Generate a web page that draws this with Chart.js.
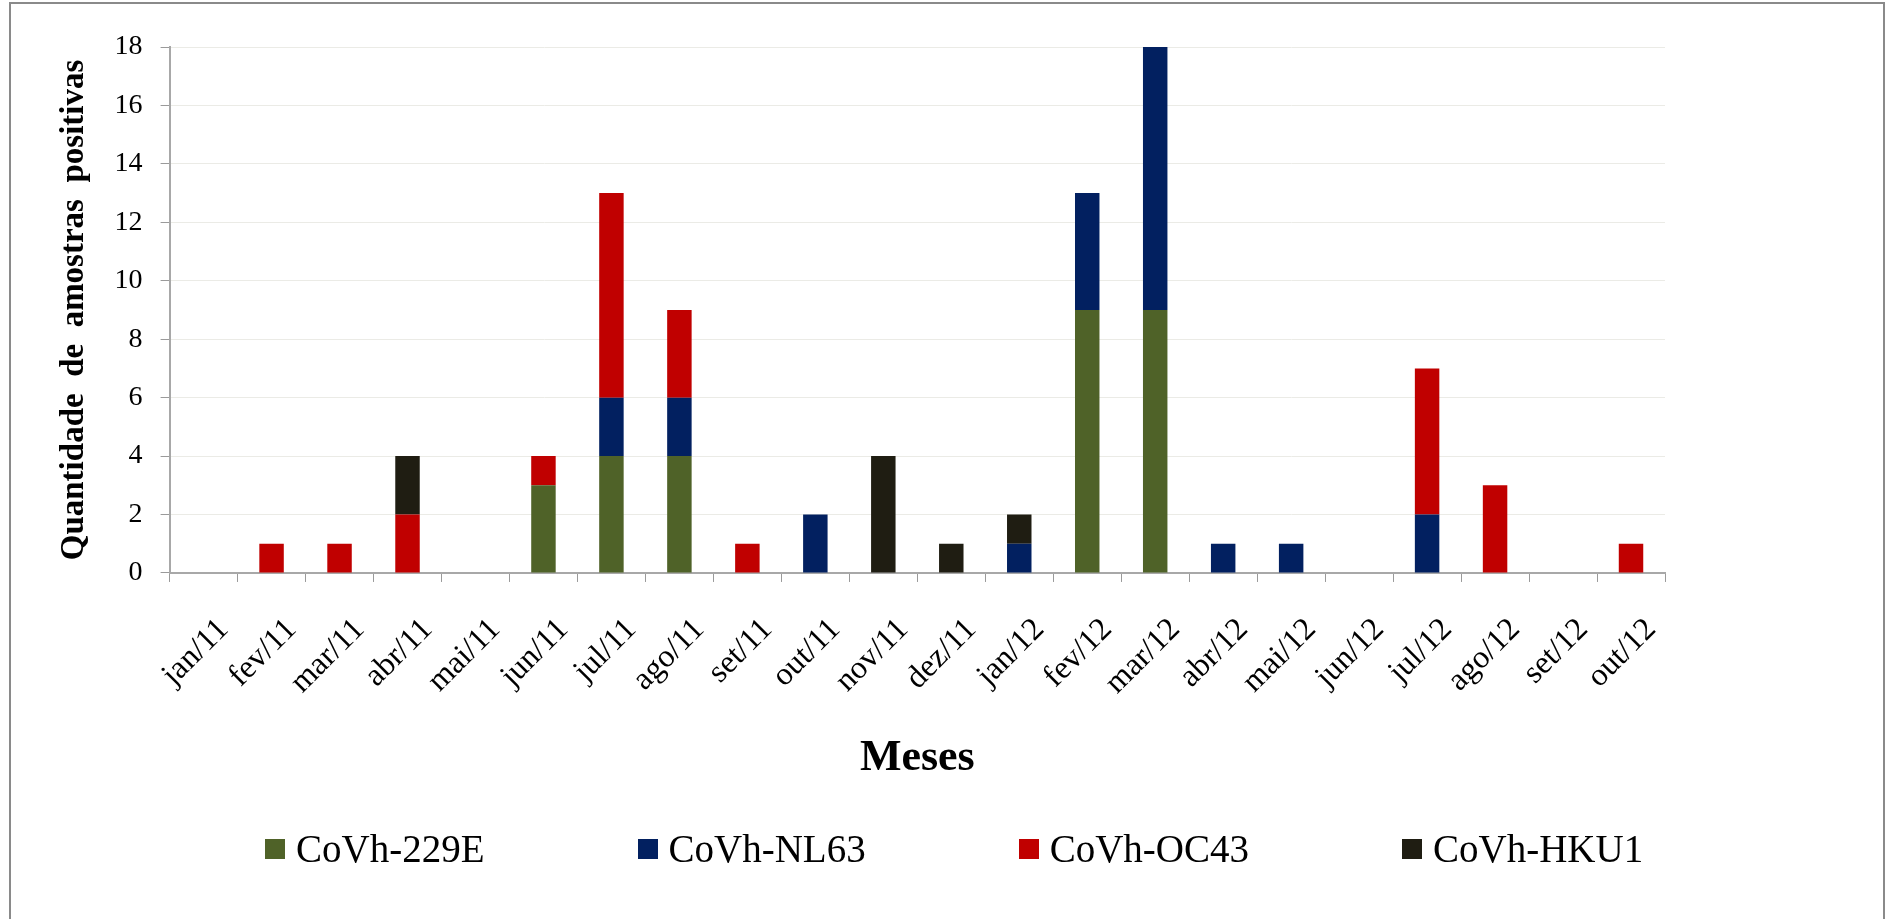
<!DOCTYPE html>
<html lang="pt">
  <head>
    <meta charset="UTF-8" />
    <title>CoVh por mês</title>
    <script src="https://cdn.jsdelivr.net/npm/chart.js"></script>
    <style>
      body { margin: 0; background: #fff; overflow: hidden; }
      #moldura {
        position: absolute; left: 9px; top: 2px;
        width: 1872px; height: 1000px;
        border: 2px solid #8a8a8a;
      }
      #grafico { position: absolute; left: 0; top: 0; }
      #legenda {
        position: absolute; left: 265px; top: 826px;
        display: flex; gap: 153px;
        font-family: 'Liberation Serif', 'Times New Roman', serif;
        font-size: 39px; line-height: 45px; color: #000;
      }
      #legenda .item { display: flex; align-items: center; white-space: nowrap; }
      #legenda .caixa { width: 20px; height: 20px; margin-right: 11px; }
    </style>
  </head>
  <body>
    <div id="moldura"></div>
    <canvas id="grafico" width="1885" height="919"></canvas>
    <div id="legenda"></div>
    <script>
      // meses (jan/2011 a out/2012)
      var meses = ["jan/11", "fev/11", "mar/11", "abr/11", "mai/11", "jun/11", "jul/11", "ago/11",
        "set/11", "out/11", "nov/11", "dez/11", "jan/12", "fev/12", "mar/12", "abr/12",
        "mai/12", "jun/12", "jul/12", "ago/12", "set/12", "out/12"];

      // amostras positivas por tipo
      var cov229E = [0, 0, 0, 0, 0, 3, 4, 4, 0, 0, 0, 0, 0, 9, 9, 0, 0, 0, 0, 0, 0, 0];
      var covNL63 = [0, 0, 0, 0, 0, 0, 2, 2, 0, 2, 0, 0, 1, 4, 9, 1, 1, 0, 2, 0, 0, 0];
      var covOC43 = [0, 1, 1, 2, 0, 1, 7, 3, 1, 0, 0, 0, 0, 0, 0, 0, 0, 0, 5, 3, 0, 1];
      var covHKU1 = [0, 0, 0, 2, 0, 0, 0, 0, 0, 0, 4, 1, 1, 0, 0, 0, 0, 0, 0, 0, 0, 0];

      var yMax = 18;
      var yPasso = 2;

      var fonte = "'Liberation Serif', 'Times New Roman', serif";

      function serie(nome, dados, cor) {
        return {
          label: nome,
          data: dados,
          backgroundColor: cor,
          borderWidth: 0,
          barPercentage: 0.36,
          categoryPercentage: 1,
        };
      }

      var ctx = document.getElementById("grafico").getContext("2d");
      var chart = new Chart(ctx, {
        type: "bar",
        data: {
          labels: meses,
          datasets: [
            serie("CoVh-229E", cov229E, "#4f6228"),
            serie("CoVh-NL63", covNL63, "#022060"),
            serie("CoVh-OC43", covOC43, "#c00000"),
            serie("CoVh-HKU1", covHKU1, "#1f1d12"),
          ],
        },
        options: {
          responsive: false,
          animation: false,
          layout: { padding: { left: 50, right: 220, top: 47, bottom: 134 } },
          plugins: {
            tooltip: { enabled: false },
            legend: { display: false },
          },
          scales: {
            x: {
              stacked: true,
              grid: {
                offset: true,
                drawOnChartArea: false,
                drawTicks: true,
                tickLength: 9,
                tickColor: "#9a9a9a",
              },
              border: { color: "#a8a8a8", width: 2 },
              ticks: {
                minRotation: 45,
                maxRotation: 45,
                autoSkip: false,
                color: "#000",
                font: { family: fonte, size: 32 },
                padding: 29,
                labelOffset: 20,
              },
              title: {
                display: true,
                text: "Meses",
                color: "#000",
                font: { family: fonte, size: 44, weight: "bold" },
                padding: { top: 1, bottom: 0 },
              },
            },
            y: {
              stacked: true,
              min: 0,
              max: yMax,
              grid: {
                color: "#ebebe6",
                tickColor: "#9a9a9a",
                tickLength: 9,
              },
              border: { color: "#a8a8a8", width: 2 },
              ticks: {
                stepSize: yPasso,
                autoSkip: false,
                color: "#000",
                font: { family: fonte, size: 28 },
                padding: 18,
              },
              title: {
                display: true,
                text: "Quantidade  de  amostras  positivas",
                color: "#000",
                font: { family: fonte, size: 33, weight: "bold" },
                padding: { top: 5, bottom: 2 },
              },
            },
          },
        },
      });

      // legenda em HTML com as cores das séries
      var legenda = document.getElementById("legenda");
      chart.data.datasets.forEach(function (ds) {
        var item = document.createElement("div");
        item.className = "item";
        var caixa = document.createElement("span");
        caixa.className = "caixa";
        caixa.style.background = ds.backgroundColor;
        item.appendChild(caixa);
        item.appendChild(document.createTextNode(ds.label));
        legenda.appendChild(item);
      });
    </script>
  </body>
</html>
